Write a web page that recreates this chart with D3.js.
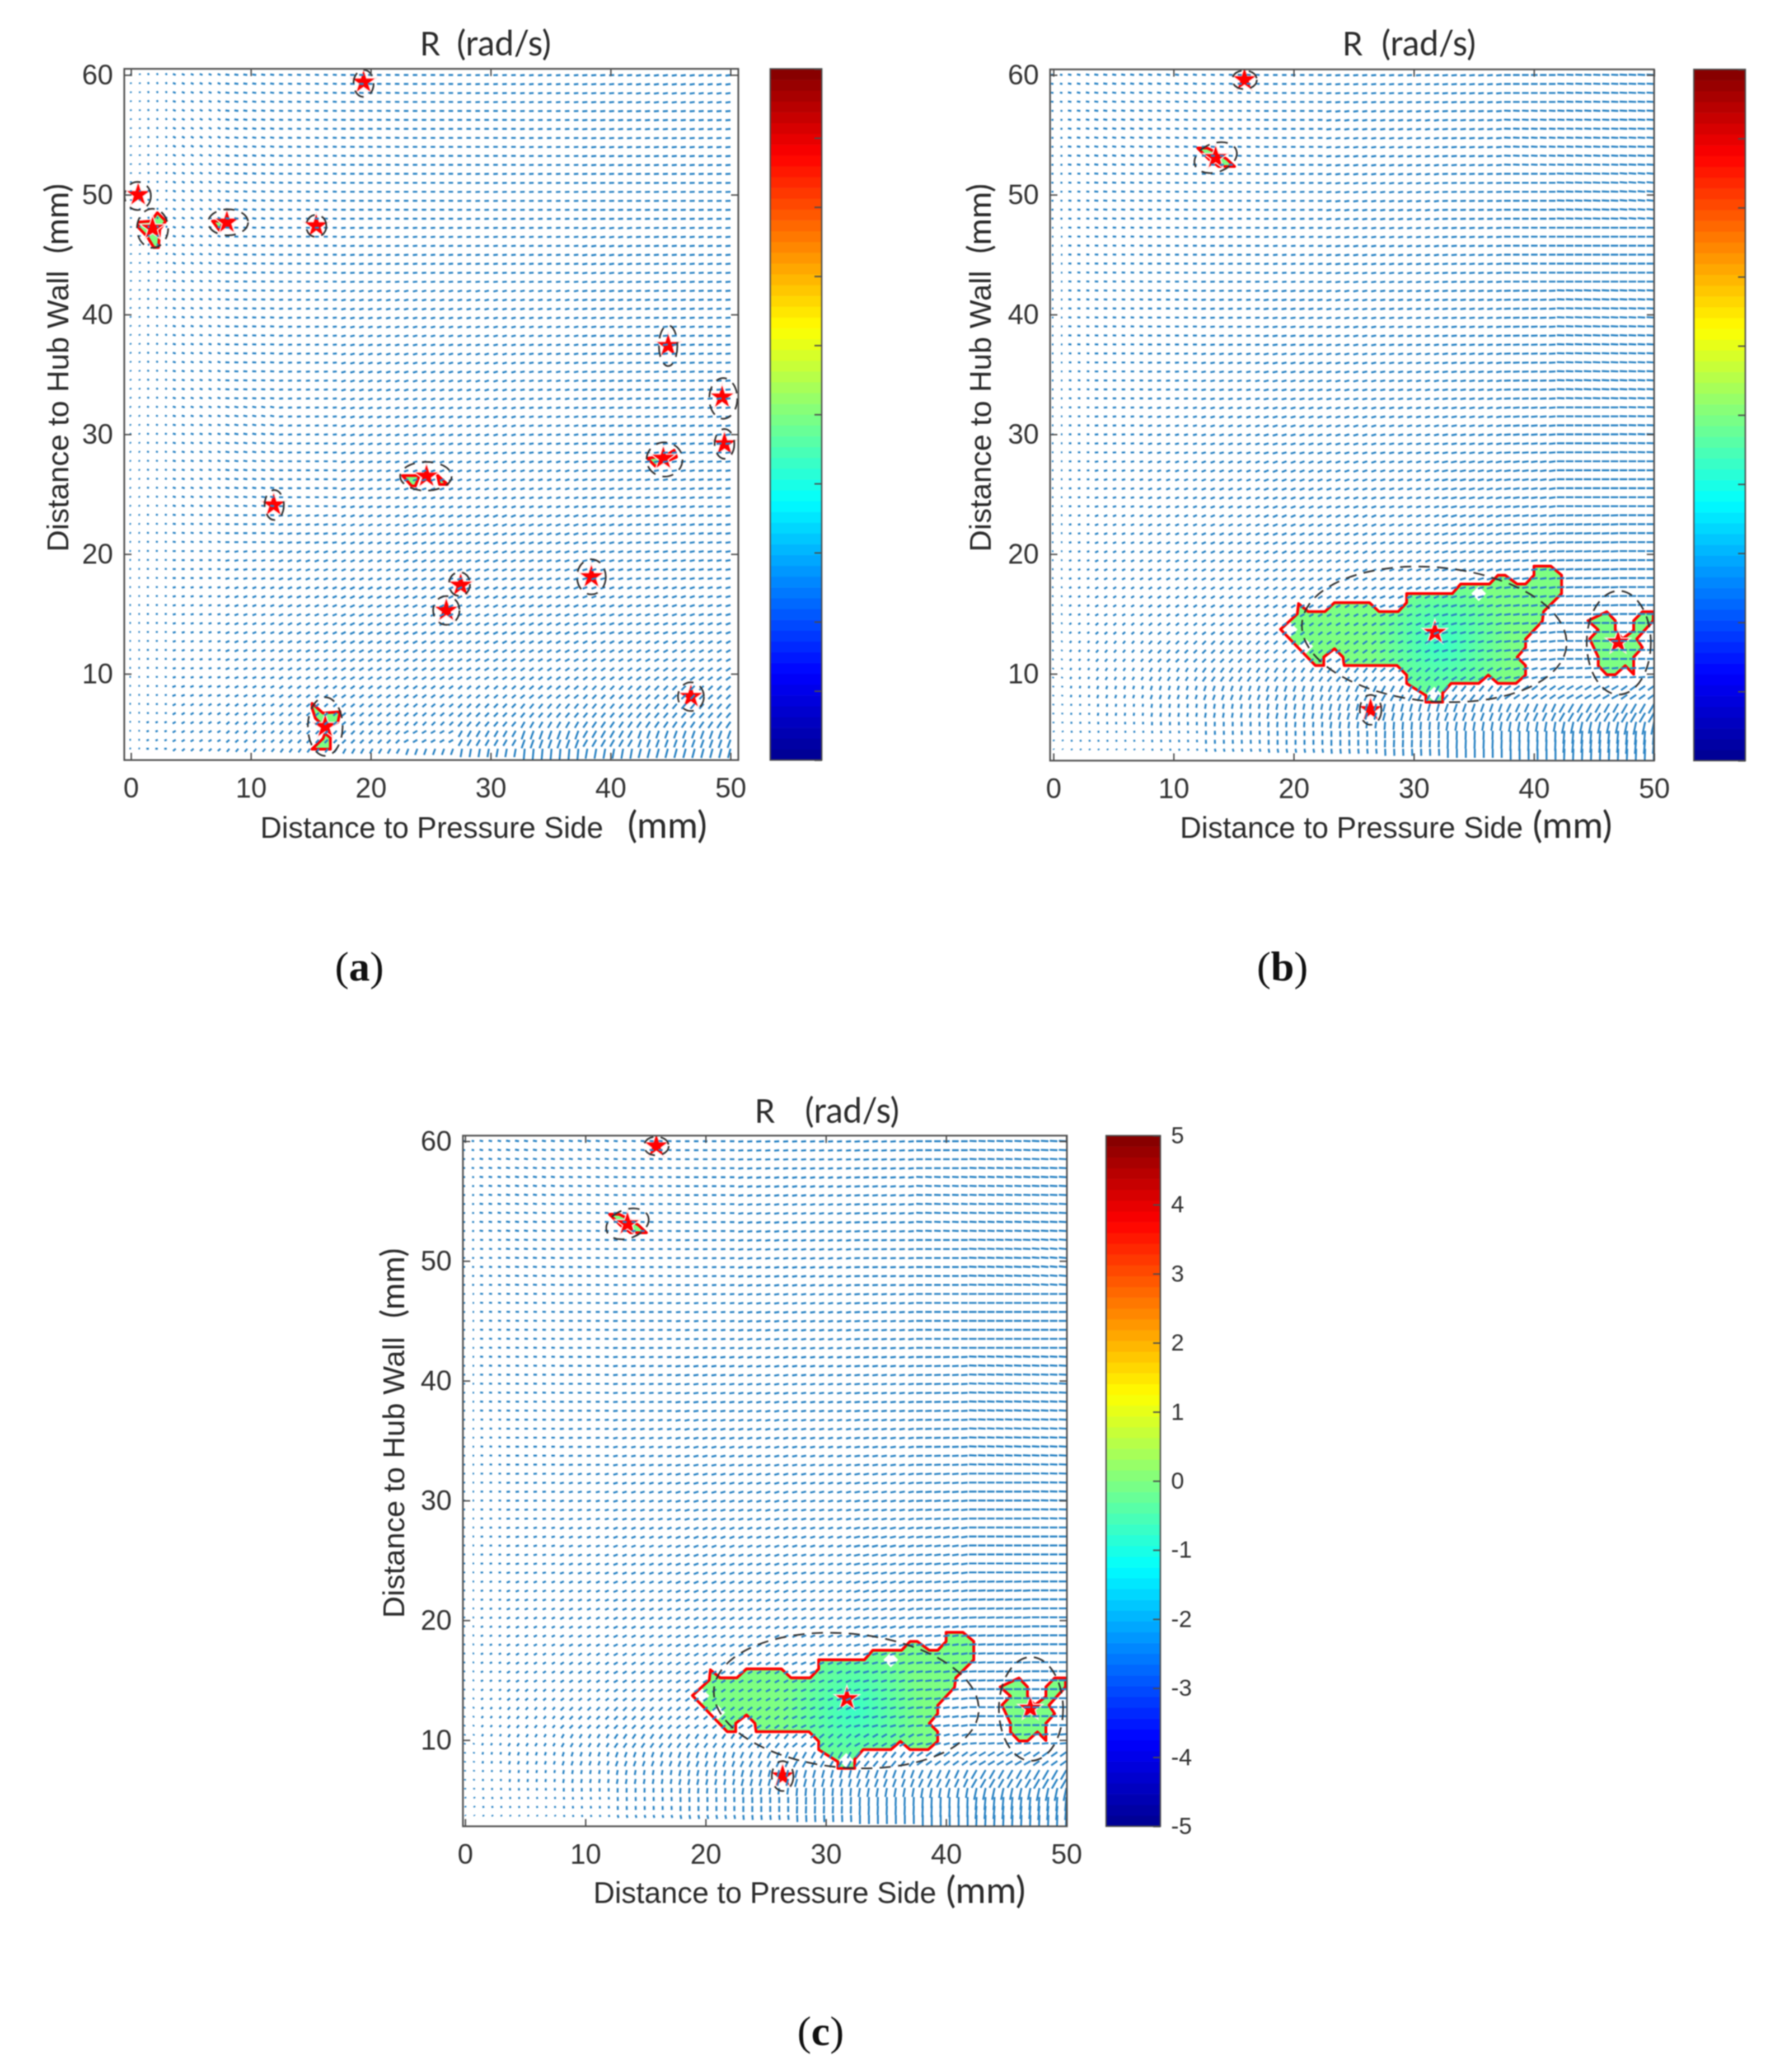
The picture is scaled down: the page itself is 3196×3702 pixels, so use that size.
<!DOCTYPE html>
<html>
<head>
<meta charset="utf-8">
<script src="https://cdn.jsdelivr.net/npm/d3@7"></script>
<style>
  html, body { margin: 0; padding: 0; background: #fff; }
  svg { display: block; filter: blur(0.8px); }
</style>
</head>
<body>
<div id="canvas-div"></div>
<script>
const xTicks = [0, 10, 20, 30, 40, 50];
const yTicks = [10, 20, 30, 40, 50, 60];
const barTicks = [-5, -4, -3, -2, -1, 0, 1, 2, 3, 4, 5];
const jetValues = [-5, -3.75, -1.25, 1.25, 3.75, 5];
const jetColors = ["#00008f", "#0000ff", "#00ffff", "#ffff00", "#ff0000", "#800000"];

// quiver in blocks: row y (mm), column x (mm)
const fieldRows = [60, 55, 50, 45, 40, 35, 30, 26, 22, 19, 16, 14, 12, 10, 8.5, 7, 6, 5, 4];
const fieldCols = [0, 2, 5, 10, 15, 20, 25, 30, 35, 40, 45, 50];

const angleA = [
    [-80, -60, -20, -8, -5, -2, 0, 3, 5, 5, 8, 8],
    [-80, -60, -25, -8, -3, -2, 0, 0, 3, 5, 5, 5],
    [-85, -70, -25, -8, -3, 0, 0, 3, 3, 3, 3, 3],
    [-85, -75, -20, -3, 0, 5, 5, 5, 5, 8, 5, 5],
    [-60, -45, -15, -3, 5, 12, 12, 12, 10, 8, 6, 5],
    [-60, -45, -15, -3, 5, 15, 15, 15, 10, 8, 6, 5],
    [-40, -30, -15, -10, 5, 15, 15, 15, 10, 8, 8, 8],
    [-30, -30, -15, -8, 0, 15, 18, 18, 15, 12, 10, 8],
    [-20, -20, -10, 0, 10, 20, 20, 20, 18, 15, 10, 8],
    [-10, -10, 0, 12, 20, 22, 22, 20, 18, 15, 12, 10],
    [0, 0, 12, 20, 22, 25, 25, 25, 22, 20, 18, 15],
    [0, 0, 15, 22, 25, 25, 25, 25, 25, 20, 20, 20],
    [0, 0, 15, 22, 25, 28, 28, 28, 28, 28, 28, 28],
    [0, 0, 15, 22, 28, 30, 30, 30, 35, 35, 35, 35],
    [0, 10, 20, 28, 35, 35, 35, 40, 40, 45, 45, 45],
    [0, 15, 30, 35, 40, 40, 40, 45, 50, 50, 50, 50],
    [0, 20, 30, 40, 40, 40, 45, 50, 60, 55, 55, 55],
    [0, 20, 30, 40, 45, 45, 30, 60, 70, 60, 70, 70],
    [-20, 0, 40, 50, 55, 60, 70, 80, 85, 80, 75, 75]
];
const speedA = [
    [3, 4, 6, 8, 8, 9, 9, 9, 9, 10, 10, 10],
    [3, 4, 6, 8, 8, 9, 9, 9, 9, 10, 10, 10],
    [3, 4, 6, 8, 8, 9, 9, 9, 9, 10, 10, 10],
    [3, 4, 6, 8, 8, 9, 9, 9, 9, 10, 10, 10],
    [3, 4, 6, 8, 8, 9, 9, 9, 9, 10, 10, 10],
    [3, 4, 6, 8, 8, 9, 9, 9, 9, 10, 10, 10],
    [3, 4, 6, 8, 8, 9, 9, 9, 9, 10, 10, 10],
    [3, 4, 6, 8, 8, 9, 9, 9, 9, 10, 10, 10],
    [3, 4, 6, 8, 9, 9, 10, 10, 10, 10, 10, 10],
    [3, 4, 6, 8, 9, 9, 10, 10, 10, 10, 10, 10],
    [3, 4, 6, 8, 9, 10, 10, 10, 10, 10, 10, 10],
    [3, 4, 6, 8, 9, 10, 10, 10, 10, 10, 10, 10],
    [3, 4, 6, 8, 9, 10, 10, 10, 10, 10, 10, 10],
    [3, 4, 6, 8, 9, 10, 10, 10, 10, 10, 11, 11],
    [3, 4, 7, 8, 9, 10, 10, 10, 11, 11, 12, 12],
    [3, 4, 7, 8, 9, 10, 10, 11, 12, 12, 13, 13],
    [3, 5, 7, 8, 9, 10, 10, 12, 14, 14, 14, 15],
    [3, 5, 7, 8, 9, 10, 10, 14, 18, 16, 16, 17],
    [3, 5, 7, 8, 9, 11, 13, 17, 22, 20, 19, 19]
];
const angleB = [
    [-10, -10, -8, -8, -5, 0, 5, 5, 5, 0, -3, -3],
    [-5, -8, -8, -5, -3, 0, 8, 8, 5, -3, -3, -3],
    [-5, -5, -5, -2, 0, 3, 8, 8, 3, 0, -3, -5],
    [0, -5, -3, 0, 2, 5, 8, 8, 5, 0, 0, 0],
    [-5, -5, -3, 0, 5, 8, 10, 8, 6, 3, -3, -3],
    [0, -5, 0, 5, 10, 12, 12, 10, 8, 3, -3, -3],
    [0, 0, 5, 12, 15, 15, 15, 12, 10, 5, 0, -2],
    [0, 5, 12, 18, 20, 20, 18, 15, 12, 8, 0, 0],
    [5, 15, 20, 22, 22, 22, 22, 18, 15, 8, 3, 0],
    [10, 20, 25, 25, 25, 25, 25, 20, 15, 8, 3, 0],
    [15, 25, 30, 32, 30, 30, 28, 22, 15, 8, 3, 0],
    [25, 35, 40, 38, 35, 35, 30, 22, 15, 8, 0, 0],
    [40, 50, 50, 45, 45, 40, 35, 25, 15, 8, 0, 0],
    [60, 62, 60, 60, 55, 55, 50, 40, 30, 15, 5, 5],
    [75, 75, 72, 72, 70, 70, 65, 60, 50, 35, 30, 35],
    [80, 80, 80, 80, 80, 78, 75, 75, 70, 65, 60, 60],
    [90, 90, 88, 88, 88, 85, 82, 85, 80, 80, 78, 78],
    [110, 105, 100, 95, 92, 90, 90, 88, 88, 88, 85, 85],
    [120, 115, 115, 110, 105, 100, 95, 92, 90, 90, 88, 88]
];
const speedB = [
    [5, 7, 8, 8, 8, 9, 10, 10, 11, 13, 14, 15],
    [4, 7, 8, 8, 8, 9, 10, 10, 11, 13, 14, 15],
    [4, 6, 8, 8, 8, 9, 10, 10, 11, 13, 15, 15],
    [3, 6, 7, 8, 9, 9, 10, 10, 11, 13, 15, 15],
    [3, 6, 7, 8, 9, 10, 10, 10, 11, 13, 15, 15],
    [3, 5, 7, 8, 9, 10, 10, 10, 11, 13, 15, 15],
    [3, 5, 7, 8, 9, 10, 10, 10, 11, 13, 15, 15],
    [3, 5, 7, 8, 9, 10, 10, 10, 12, 13, 15, 15],
    [3, 5, 7, 8, 9, 10, 10, 10, 12, 13, 15, 15],
    [3, 5, 7, 8, 9, 10, 10, 10, 12, 13, 15, 15],
    [3, 5, 7, 8, 9, 10, 10, 11, 12, 13, 15, 15],
    [3, 5, 7, 8, 9, 10, 10, 11, 12, 13, 15, 15],
    [3, 5, 7, 9, 10, 10, 11, 11, 12, 13, 14, 14],
    [3, 5, 7, 9, 11, 11, 12, 12, 12, 12, 13, 13],
    [3, 5, 7, 9, 11, 12, 13, 14, 14, 14, 15, 15],
    [3, 4, 6, 8, 10, 12, 14, 16, 17, 18, 20, 22],
    [3, 4, 5, 7, 9, 11, 13, 16, 18, 20, 24, 26],
    [3, 4, 4, 5, 8, 10, 12, 15, 18, 22, 26, 28],
    [2, 3, 3, 4, 6, 8, 10, 14, 18, 22, 26, 28]
];

// vortex centres (x, y in mm)
const starsA = [[19.4, 59.4], [0.6, 50], [1.8, 47.2], [8, 47.7], [15.45, 47.4], [44.8, 37.4], [49.3, 33.1], [49.5, 29.2],
    [44.4, 28], [24.65, 26.5], [11.9, 24.1], [27.5, 17.4], [38.4, 18.1], [26.3, 15.3], [46.7, 8.1], [16.2, 5.6]];
const starsB = [[15.9, 59.6], [13.5, 53.1], [31.75, 13.45], [47, 12.65], [26.4, 7]];

// vortex boundaries: cx, cy, rx, ry (mm), tilt (deg)
const ellipsesA = [[19.4, 59.3, 0.84, 1.13, 0], [0.56, 49.9, 1.1, 1.17, 0], [1.8, 47.2, 1.3, 1.63, 0], [8.1, 47.7, 1.67, 1.09, 0],
    [15.45, 47.4, 0.84, 0.93, 0], [44.8, 37.4, 0.77, 1.7, 0], [49.4, 33, 1.17, 1.7, 0], [49.5, 29.2, 0.82, 1.24, 0],
    [44.5, 27.9, 1.5, 1.43, 0], [24.6, 26.5, 2.15, 1.2, 0], [11.95, 24.1, 0.8, 1.25, 0], [27.4, 17.5, 0.88, 1, 0],
    [38.4, 18.1, 1.2, 1.47, 0], [26.3, 15.3, 1.1, 1.2, 0], [46.7, 8.1, 1.08, 1.2, 0], [16.2, 5.6, 1.45, 2.45, 0]];
const ellipsesB = [[15.9, 59.6, 1.03, 0.78, 0], [13.5, 53.1, 1.83, 1.2, 20], [31.7, 13.3, 11.05, 5.6, -5], [47.06, 12.6, 2.67, 4.33, 0],
    [26.4, 7, 0.9, 1.25, 0]];

// low-swirl regions (outlined in red)
const blobsA = [
    [[0.63, 47.72], [1.68, 47.8], [2.2, 48.5], [2.9, 47.8], [2.4, 47.1], [2.3, 45.6], [1.9, 45.6], [1.36, 46.5], [0.63, 47.25]],
    [[6.8, 47.8], [7.7, 47.8], [7.4, 47]],
    [[15.1, 7.54], [16, 6.73], [17.44, 6.83], [17.26, 5.98], [16.28, 5.43], [15.38, 6.29], [15.1, 7.15]],
    [[16.19, 5.04], [16.63, 4.65], [16.63, 3.72], [15.1, 3.72], [16, 4.58]],
    [[43.07, 28], [43.73, 27.34], [45.5, 28.1], [45.3, 28.68], [44.57, 28.2]],
    [[22.64, 26.55], [24.05, 26.55], [23.72, 25.69], [23.4, 25.7]],
    [[25.56, 26.58], [26.39, 25.82], [25.73, 25.82]]
];
const blobsB = [
    [[18.9, 13.72], [20.3, 15], [20.4, 15.87], [21.2, 15.2], [22.6, 15.2], [23.4, 15.95], [26.3, 15.95], [27.1, 15.2], [28.7, 15.2],
     [29.4, 15.95], [29.4, 16.7], [33.2, 16.7], [33.9, 17.5], [36.3, 17.5], [37, 18.24], [37.6, 18.24], [38.6, 17.5], [39.3, 17.5],
     [40, 18.24], [40, 19], [41.4, 19], [42.3, 18.24], [42.3, 16.7], [40.8, 15.2], [40.7, 14.4], [39.3, 12.9], [39.3, 12.2],
     [38.6, 11.4], [39.3, 10.7], [39.3, 9.9], [38.5, 9.2], [37, 9.2], [36.2, 9.9], [35.4, 9.2], [33.1, 9.2], [32.4, 8.4], [32.4, 7.64],
     [31, 7.64], [31, 8.2], [29.4, 9.2], [29.4, 9.9], [28.6, 10.7], [24.2, 10.7], [24.1, 11.4], [23.4, 12.1], [22.5, 11.4], [22.5, 10.7],
     [21.8, 10.7]],
    [[44.5, 14.44], [46.06, 15.19], [46.77, 14.44], [46.77, 13.67], [47.37, 12.92], [48.3, 13.63], [48.3, 14.44], [49.03, 15.19],
     [49.93, 15.19], [49.93, 14.44], [48.56, 12.92], [49.03, 12.2], [48.3, 11.4], [48.3, 9.97], [47.6, 10.68], [46.77, 9.93],
     [46.06, 9.93], [45.35, 10.68], [45.35, 11.4], [44.64, 12.92], [45.35, 13.67]],
    [[12, 53.9], [12.8, 53.9], [13.6, 53.5], [14.4, 53], [15.08, 52.36], [13.75, 52.36], [12.9, 53]]
];
const holesB = [[35.4, 16.7], [19.7, 13.7], [21, 12.3], [31.7, 8.3]];

const panels = [
    { left: 222, right: 1319, top: 123, bottom: 1358, x0: 234, x50: 1305, y60: 134, y10: 1204,
      barLeft: 1376, barRight: 1468, barLabels: false,
      angle: angleA, speed: speedA, stars: starsA, ellipses: ellipsesA, blobs: blobsA, holes: [],
      xlabel: 465, xmm: 1121, xlabelY: 1497, ylabelX: 122, ylabelStart: 986, ymmStart: 453,
      titleR: 750, titleU: 816, titleY: 99,
      tag: "a", tagX: 642, tagY: 1752 },
    { left: 1876, right: 2955, top: 124, bottom: 1359, x0: 1882, x50: 2955, y60: 134, y10: 1204,
      barLeft: 3026, barRight: 3118, barLabels: false,
      angle: angleB, speed: speedB, stars: starsB, ellipses: ellipsesB, blobs: blobsB, holes: holesB,
      xlabel: 2108, xmm: 2738, xlabelY: 1497, ylabelX: 1770, ylabelStart: 986, ymmStart: 453,
      titleR: 2398, titleU: 2468, titleY: 99,
      tag: "b", tagX: 2291, tagY: 1752 },
    { left: 827, right: 1906, top: 2029, bottom: 3263, x0: 831, x50: 1905, y60: 2039, y10: 3109,
      barLeft: 1976, barRight: 2073, barLabels: true,
      angle: angleB, speed: speedB, stars: starsB, ellipses: ellipsesB, blobs: blobsB, holes: holesB,
      xlabel: 1060, xmm: 1690, xlabelY: 3400, ylabelX: 722, ylabelStart: 2891, ymmStart: 2355,
      titleR: 1348, titleU: 1438, titleY: 2006,
      tag: "c", tagX: 1466, tagY: 3654 }
];

const gridX = d3.range(68).map(i => i * 50 / 67);
const gridY = d3.range(76).map(i => 60 - i * 0.75);
const numColors = 64;
const quiverScale = 0.9;

const jet = d3.scaleLinear().domain(jetValues).range(jetColors);

const svg = d3.select("#canvas-div")
    .append("svg")
    .attr("id", "canvas")
    .attr("width", 3196)
    .attr("height", 3702)
    .style("background-color", "white");

const defs = svg.append("defs");
const blobLine = d3.line().curve(d3.curveLinearClosed);

function nearest(list, value) {
    return d3.least(d3.range(list.length), i => Math.abs(list[i] - value));
}

function drawPanel(p, index) {
    const g = svg.append("g").attr("class", "panel-" + p.tag);

    const xScale = d3.scaleLinear().domain([0, 50]).range([p.x0, p.x50]);
    const yScale = d3.scaleLinear().domain([10, 60]).range([p.y10, p.y60]);
    const project = d => [xScale(d[0]), yScale(d[1])];

    defs.append("clipPath").attr("id", "plot-clip-" + index)
        .append("rect")
        .attr("x", p.left).attr("y", p.top)
        .attr("width", p.right - p.left).attr("height", p.bottom - p.top);

    const grad = defs.append("radialGradient").attr("id", "blob-fill-" + index)
        .attr("gradientUnits", "userSpaceOnUse")
        .attr("cx", xScale(32.3)).attr("cy", yScale(12.6)).attr("r", 125);
    grad.append("stop").attr("offset", 0).attr("stop-color", jet(-0.7));
    grad.append("stop").attr("offset", 0.5).attr("stop-color", jet(-0.35));
    grad.append("stop").attr("offset", 1).attr("stop-color", jet(-0.02));

    const plot = g.append("g").attr("clip-path", `url(#plot-clip-${index})`);

    //regions
    plot.selectAll(".blob")
        .data(p.blobs)
        .enter()
        .append("path")
        .attr("class", "blob")
        .attr("d", d => blobLine(d.map(project)))
        .attr("fill", `url(#blob-fill-${index})`);

    plot.selectAll(".hole")
        .data(p.holes)
        .enter()
        .append("path")
        .attr("class", "hole")
        .attr("d", d => blobLine([[d[0] - 0.62, d[1]], [d[0], d[1] + 0.62], [d[0] + 0.62, d[1]], [d[0], d[1] - 0.62]].map(project)))
        .attr("fill", "white");

    plot.selectAll(".blob-edge")
        .data(p.blobs)
        .enter()
        .append("path")
        .attr("class", "blob-edge")
        .attr("d", d => blobLine(d.map(project)))
        .attr("fill", "none")
        .attr("stroke", "#ff0000")
        .attr("stroke-width", 5)
        .attr("stroke-linejoin", "round");

    //centres
    const star = d3.symbol(d3.symbolStar, 640);
    plot.selectAll(".centre")
        .data(p.stars)
        .enter()
        .append("path")
        .attr("class", "centre")
        .attr("d", star)
        .attr("transform", d => `translate(${xScale(d[0])},${yScale(d[1])})`)
        .attr("fill", "#ff0000")
        .attr("stroke", "#ffe6e6")
        .attr("stroke-width", 2);

    //quiver, tails on the grid nodes
    const quiver = d3.path();
    gridY.forEach(yv => {
        const r = nearest(fieldRows, yv);
        gridX.forEach(xv => {
            const c = nearest(fieldCols, xv);
            const a = p.angle[r][c] * Math.PI / 180;
            const s = p.speed[r][c] * quiverScale;
            const tx = xScale(xv), ty = yScale(yv);
            quiver.moveTo(tx, ty);
            quiver.lineTo(tx - s * Math.cos(a), ty + s * Math.sin(a));
        });
    });
    plot.append("path")
        .attr("class", "quiver")
        .attr("d", quiver.toString())
        .attr("fill", "none")
        .attr("stroke", "#2a83c4")
        .attr("stroke-width", 3.4);

    //vortex boundaries
    plot.selectAll(".boundary")
        .data(p.ellipses)
        .enter()
        .append("ellipse")
        .attr("class", "boundary")
        .attr("cx", d => xScale(d[0]))
        .attr("cy", d => yScale(d[1]))
        .attr("rx", d => xScale(d[2]) - xScale(0))
        .attr("ry", d => yScale(10) - yScale(10 + d[3]))
        .attr("transform", d => `rotate(${-d[4]},${xScale(d[0])},${yScale(d[1])})`)
        .attr("fill", "none")
        .attr("stroke", "#333")
        .attr("stroke-width", 3)
        .attr("stroke-dasharray", "20 13");

    //axes
    const axisColor = "#4d4d4d";
    const styleAxis = sel => {
        sel.select(".domain").remove();
        sel.selectAll("line").attr("stroke", axisColor).attr("stroke-width", 2.5);
        sel.selectAll("text")
            .attr("fill", "#333")
            .attr("font-family", "'Liberation Sans', Arial, sans-serif")
            .attr("font-size", 50);
    };
    g.append("g").attr("transform", `translate(0,${p.bottom})`)
        .call(d3.axisBottom(xScale).tickValues(xTicks).tickSizeInner(-13).tickSizeOuter(0).tickPadding(31))
        .call(styleAxis);
    g.append("g").attr("transform", `translate(${p.left},0)`)
        .call(d3.axisLeft(yScale).tickValues(yTicks).tickSizeInner(-13).tickSizeOuter(0).tickPadding(20))
        .call(styleAxis);
    g.append("g").attr("transform", `translate(0,${p.top})`)
        .call(d3.axisTop(xScale).tickValues(xTicks).tickSizeInner(-13).tickSizeOuter(0).tickFormat(""))
        .call(styleAxis);
    g.append("g").attr("transform", `translate(${p.right},0)`)
        .call(d3.axisRight(yScale).tickValues(yTicks).tickSizeInner(-13).tickSizeOuter(0).tickFormat(""))
        .call(styleAxis);
    g.append("rect")
        .attr("x", p.left).attr("y", p.top)
        .attr("width", p.right - p.left).attr("height", p.bottom - p.top)
        .attr("fill", "none")
        .attr("stroke", axisColor)
        .attr("stroke-width", 3);

    //labels
    const label = (x, y, text, font, size, rotate) => g.append("text")
        .attr("transform", `translate(${x},${y})` + (rotate ? " rotate(-90)" : ""))
        .attr("fill", "#2b2b2b")
        .attr("font-family", font)
        .attr("font-size", size)
        .text(text);
    const sans = "'Liberation Sans', Arial, sans-serif";
    label(p.xlabel, p.xlabelY, "Distance to Pressure Side", sans, 53);
    label(p.xmm, p.xlabelY, "(mm)", "Lato, sans-serif", 66);
    label(p.ylabelX, p.ylabelStart, "Distance to Hub Wall", sans, 54, true);
    label(p.ylabelX, p.ymmStart, "(mm)", "Lato, sans-serif", 58, true);
    label(p.titleR, p.titleY, "R", "Lato, sans-serif", 58);
    label(p.titleU, p.titleY, "(rad/s)", "Lato, sans-serif", 61);

    const tag = g.append("text")
        .attr("x", p.tagX).attr("y", p.tagY)
        .attr("text-anchor", "middle")
        .attr("fill", "#111")
        .attr("font-family", "'Liberation Serif', serif")
        .attr("font-size", 75);
    tag.append("tspan").text("(");
    tag.append("tspan").attr("font-weight", "bold").text(p.tag);
    tag.append("tspan").text(")");

    //colorbar
    const barScale = d3.scaleLinear().domain([-5, 5]).range([p.bottom, p.top]);
    const levels = d3.range(numColors).map(i => -5 + (i + 0.5) * 10 / numColors);
    g.selectAll(".bar-level")
        .data(levels)
        .enter()
        .append("rect")
        .attr("class", "bar-level")
        .attr("x", p.barLeft)
        .attr("width", p.barRight - p.barLeft)
        .attr("y", d => barScale(d + 5 / numColors))
        .attr("height", d => barScale(d - 5 / numColors) - barScale(d + 5 / numColors) + 0.6)
        .attr("fill", d => jet(d));
    g.append("rect")
        .attr("x", p.barLeft).attr("y", p.top)
        .attr("width", p.barRight - p.barLeft).attr("height", p.bottom - p.top)
        .attr("fill", "none")
        .attr("stroke", axisColor)
        .attr("stroke-width", 2.5);
    const barAxis = d3.axisRight(barScale).tickValues(barTicks).tickSizeInner(-13).tickSizeOuter(0).tickPadding(19);
    if (!p.barLabels) barAxis.tickFormat("");
    else barAxis.tickFormat(d => String(d));
    g.append("g").attr("transform", `translate(${p.barRight},0)`)
        .call(barAxis)
        .call(styleAxis)
        .call(sel => sel.selectAll("text").attr("font-size", 42));
}

panels.forEach(drawPanel);
</script>
</body>
</html>
